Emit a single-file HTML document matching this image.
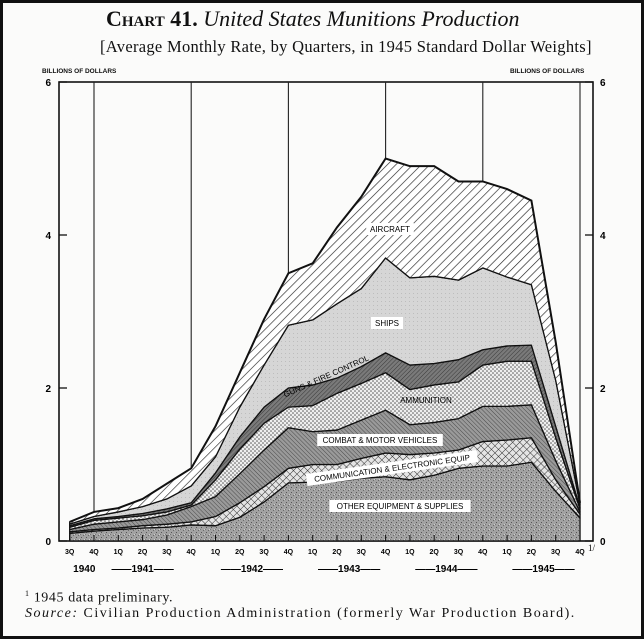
<!DOCTYPE html>
<html><head><meta charset="utf-8"><style>
body{margin:0;background:#fff;}
#wrap{position:relative;width:644px;height:639px;background:#fbfbfa;box-sizing:border-box;border:3px solid #111;overflow:hidden;font-family:"Liberation Serif",serif;color:#111;}
.t{position:absolute;white-space:nowrap;}
</style></head><body>
<div id="wrap">
<div class="t" style="left:103px;top:3px;font-size:22px;"><span style="font-variant:small-caps;font-weight:bold;">Chart 41.</span> <i>United States Munitions Production</i></div>
<div class="t" style="left:97px;top:34px;font-size:16.5px;letter-spacing:0.3px;">[Average Monthly Rate, by Quarters, in 1945 Standard Dollar Weights]</div>
<svg id="svg" width="644" height="639" style="position:absolute;left:-3px;top:-3px">
<defs>
<pattern id="pAir" width="6" height="6" patternUnits="userSpaceOnUse" patternTransform="rotate(45)"><rect width="6" height="6" fill="#fff"/><line x1="0" y1="0" x2="0" y2="6" stroke="#222" stroke-width="1.3"/></pattern>
<pattern id="pShip" width="4" height="4" patternUnits="userSpaceOnUse"><rect width="4" height="4" fill="#d6d6d6"/><rect x="1" y="1" width="1" height="1" fill="#bdbdbd"/></pattern>
<pattern id="pGuns" width="3" height="3" patternUnits="userSpaceOnUse" patternTransform="rotate(45)"><rect width="3" height="3" fill="#7a7a7a"/><line x1="0" y1="0" x2="0" y2="3" stroke="#3a3a3a" stroke-width="1"/></pattern>
<pattern id="pAmm" width="4" height="4" patternUnits="userSpaceOnUse"><rect width="4" height="4" fill="#eeeeee"/><circle cx="1" cy="1" r="0.8" fill="#555"/><circle cx="3" cy="3" r="0.8" fill="#555"/></pattern>
<pattern id="pComb" width="3" height="3" patternUnits="userSpaceOnUse" patternTransform="rotate(-45)"><rect width="3" height="3" fill="#9a9a9a"/><line x1="0" y1="0" x2="0" y2="3" stroke="#4a4a4a" stroke-width="1"/></pattern>
<pattern id="pComm" width="5" height="5" patternUnits="userSpaceOnUse" patternTransform="rotate(45)"><rect width="5" height="5" fill="#e4e4e4"/><line x1="0" y1="0" x2="0" y2="5" stroke="#333" stroke-width="1"/><line x1="0" y1="0" x2="5" y2="0" stroke="#333" stroke-width="1"/></pattern>
<pattern id="pOther" width="5" height="5" patternUnits="userSpaceOnUse"><rect width="5" height="5" fill="#a2a2a2"/><rect x="1" y="2" width="1" height="1" fill="#555"/><rect x="3" y="0" width="1" height="1" fill="#6a6a6a"/><rect x="4" y="4" width="1" height="1" fill="#d0d0d0"/><rect x="0" y="4" width="1" height="1" fill="#777"/></pattern>
</defs>
<g id="gridG"></g>
<g id="areaG"></g>
<g id="axisG"></g>
</svg>
<div class="t" style="left:39px;top:65px;font:bold 6.5px 'Liberation Sans',sans-serif;">BILLIONS OF DOLLARS</div>
<div class="t" style="left:507px;top:65px;font:bold 6.5px 'Liberation Sans',sans-serif;">BILLIONS OF DOLLARS</div>
<div class="t" style="left:22px;top:586px;font-size:14px;letter-spacing:0.6px;"><sup style="font-size:8px">1</sup> 1945 data preliminary.</div>
<div class="t" style="left:22px;top:603px;font-size:14px;letter-spacing:1.5px;"><i>Source:</i> Civilian Production Administration (formerly War Production Board).</div>
</div>
<script>
const quarters=["3Q","4Q","1Q","2Q","3Q","4Q","1Q","2Q","3Q","4Q","1Q","2Q","3Q","4Q","1Q","2Q","3Q","4Q","1Q","2Q","3Q","4Q"];
const yTicks=[0,2,4,6];
const other=[0.10,0.13,0.15,0.17,0.18,0.21,0.20,0.31,0.51,0.76,0.77,0.78,0.82,0.84,0.80,0.86,0.95,0.98,0.98,1.03,0.65,0.30];
const comm=[0.02,0.02,0.02,0.03,0.04,0.04,0.12,0.19,0.20,0.19,0.23,0.22,0.26,0.31,0.33,0.29,0.24,0.32,0.34,0.32,0.15,0.05];
const combat=[0.03,0.07,0.08,0.08,0.12,0.20,0.26,0.38,0.48,0.53,0.43,0.45,0.50,0.56,0.39,0.40,0.41,0.46,0.44,0.43,0.25,0.03];
const ammunition=[0.03,0.05,0.05,0.05,0.04,0.02,0.22,0.32,0.35,0.27,0.34,0.48,0.48,0.49,0.46,0.49,0.48,0.54,0.59,0.57,0.30,0.04];
const guns=[0.02,0.02,0.02,0.03,0.04,0.03,0.09,0.16,0.21,0.25,0.27,0.20,0.22,0.26,0.32,0.28,0.29,0.20,0.20,0.21,0.15,0.02];
const ships=[0.02,0.03,0.06,0.09,0.13,0.22,0.21,0.39,0.55,0.82,0.85,0.97,1.02,1.24,1.14,1.14,1.04,1.07,0.90,0.79,0.60,0.04];
const aircraft=[0.03,0.06,0.05,0.10,0.20,0.23,0.40,0.45,0.60,0.68,0.74,1.00,1.20,1.30,1.46,1.44,1.29,1.13,1.15,1.10,0.50,0.02];

const NS="http://www.w3.org/2000/svg";
const X0=69.7,DX=24.3,Y0=541,PY=76.5,LEFT=59,RIGHT=593,TOP=82;
const x=i=>X0+i*DX;
const y=v=>Y0-v*PY;
function mk(tag,attrs,parent){const e=document.createElementNS(NS,tag);for(const k in attrs)e.setAttribute(k,attrs[k]);parent.appendChild(e);return e;}
const grid=document.getElementById('gridG'),areas=document.getElementById('areaG'),ax=document.getElementById('axisG');

const fr=mk('rect',{x:LEFT,y:TOP,width:RIGHT-LEFT,height:Y0-TOP,fill:'none',stroke:'#111','stroke-width':1.6},grid);


for(let i=1;i<quarters.length;i+=4){
  const l=mk('line',{x1:x(i),x2:x(i),y1:TOP,y2:Y0,stroke:'#222','stroke-width':1.1},grid);
  
  
}

const series=[
 {name:'other-equipment-area',v:other,fill:'url(#pOther)'},
 {name:'communication-area',v:comm,fill:'url(#pComm)'},
 {name:'combat-vehicles-area',v:combat,fill:'url(#pComb)'},
 {name:'ammunition-area',v:ammunition,fill:'url(#pAmm)'},
 {name:'guns-area',v:guns,fill:'url(#pGuns)'},
 {name:'ships-area',v:ships,fill:'url(#pShip)'},
 {name:'aircraft-area',v:aircraft,fill:'url(#pAir)'}
];
let base=quarters.map(()=>0);
series.forEach(s=>{
  const top=base.map((b,i)=>b+s.v[i]);
  let d='M'+x(0)+','+y(top[0]);
  for(let i=1;i<top.length;i++)d+='L'+x(i)+','+y(top[i]);
  for(let i=top.length-1;i>=0;i--)d+='L'+x(i)+','+y(base[i]);
  d+='Z';
  const p=mk('path',{d:d,fill:s.fill,stroke:'#111','stroke-width':1.3,'stroke-linejoin':'round'},areas);
  
  
  base=top;
});
let tl='M'+x(0)+','+y(base[0]);for(let i=1;i<base.length;i++)tl+='L'+x(i)+','+y(base[i]);
const tline=mk('path',{d:tl,fill:'none',stroke:'#111','stroke-width':2},areas);



yTicks.forEach(t=>{
  const l1=mk('line',{x1:LEFT,x2:LEFT+8,y1:y(t),y2:y(t),stroke:'#111','stroke-width':1.3},ax);
  
  
  const l2=mk('line',{x1:RIGHT-8,x2:RIGHT,y1:y(t),y2:y(t),stroke:'#111','stroke-width':1.3},ax);
  
  
  const a=mk('text',{x:LEFT-8,y:y(t)+4,'text-anchor':'end','font-family':'Liberation Sans, sans-serif','font-size':10,'font-weight':'bold'},ax);a.textContent=t;
  
  
  const b=mk('text',{x:RIGHT+7,y:y(t)+4,'font-family':'Liberation Sans, sans-serif','font-size':10,'font-weight':'bold'},ax);b.textContent=t;
  
  
});
quarters.forEach((q,i)=>{
  const l=mk('line',{x1:x(i),x2:x(i),y1:Y0-6,y2:Y0,stroke:'#111','stroke-width':1},ax);
  
  
  const t=mk('text',{x:x(i),y:Y0+13,'text-anchor':'middle','font-family':'Liberation Sans, sans-serif','font-size':7,'font-weight':'bold'},ax);t.textContent=q;
  
  
});
const fm=mk('text',{x:x(21)+8,y:Y0+10,'font-family':'Liberation Serif, serif','font-size':9},ax);fm.textContent='1/';


const years=[["1940",0.6],["——1941——",3],["——1942——",7.5],["——1943——",11.5],["——1944——",15.5],["——1945——",19.5]];
years.forEach(([s,p])=>{
  const t=mk('text',{x:x(p),y:Y0+31,'text-anchor':'middle','font-family':'Liberation Sans, sans-serif','font-size':10,'font-weight':'bold'},ax);t.textContent=s;
  
  
});
function lab(txt,cx,cy,rot,name,bg){
  const g=mk('g',{transform:`translate(${cx},${cy}) rotate(${rot})`},ax);
  
  
  const t=mk('text',{x:0,y:3,'text-anchor':'middle','font-family':'Liberation Sans, sans-serif','font-size':8},g);t.textContent=txt;
  if(bg){const w=txt.length*5.2+6;const r=mk('rect',{x:-w/2,y:-6,width:w,height:12,fill:'#fff'},g);g.insertBefore(r,t);}
}
lab('AIRCRAFT',390,229,0,'aircraft-label',true);
lab('SHIPS',387,323,0,'ships-label',true);
lab('GUNS & FIRE CONTROL',326,376,-24,'guns-label',false);
lab('AMMUNITION',426,400,0,'ammunition-label',false);
lab('COMBAT & MOTOR VEHICLES',380,440,0,'combat-label',true);
lab('COMMUNICATION & ELECTRONIC EQUIP',392,468,-8,'communication-label',true);
lab('OTHER EQUIPMENT & SUPPLIES',400,506,0,'other-label',true);
</script>
</body></html>
